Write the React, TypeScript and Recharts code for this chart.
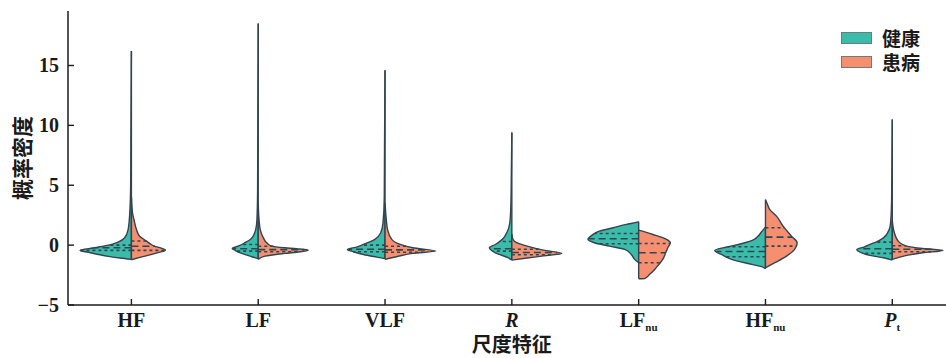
import React from 'react';
import { ComposedChart, Area, XAxis, YAxis, ReferenceLine, Legend, Label } from 'recharts';

type Profile = [number, number][];

// Category order along the x axis
const features = ['HF', 'LF', 'VLF', 'R', 'LFnu', 'HFnu', 'Pt'];
const tickBase = ['HF', 'LF', 'VLF', 'R', 'LF', 'HF', 'P'];
const tickSub = ['', '', '', '', 'nu', 'nu', 't'];
const tickItalic = [false, false, false, true, false, false, true];

const groups = ['健康', '患病'];
const yTicks = [-5, 0, 5, 10, 15];

// Kernel density outlines: [value, half width in category units], bottom to top
const hfHealthy: Profile = [[-1.19, 0], [-1.08, 0.09], [-0.94, 0.18], [-0.78, 0.26], [-0.6, 0.34], [-0.44, 0.405], [-0.22, 0.29], [0.0, 0.18], [0.25, 0.105], [0.61, 0.053], [1.3, 0.026], [2.7, 0.013], [5, 0.006], [9, 0.004], [16.2, 0]];
const hfDisease: Profile = [[-1.22, 0], [-1.05, 0.06], [-0.86, 0.13], [-0.62, 0.21], [-0.42, 0.268], [-0.25, 0.235], [-0.08, 0.18], [0.1, 0.15], [0.33, 0.12], [0.75, 0.065], [1.3, 0.04], [2.14, 0.02], [2.6, 0.01], [3.2, 0.004], [4.0, 0]];

const lfHealthy: Profile = [[-1.13, 0], [-0.97, 0.05], [-0.69, 0.13], [-0.45, 0.18], [-0.28, 0.205], [-0.05, 0.15], [0.2, 0.105], [0.45, 0.065], [0.75, 0.04], [1.3, 0.02], [2.14, 0.01], [4.5, 0.005], [10, 0.003], [18.5, 0]];
const lfDisease: Profile = [[-1.19, 0], [-0.92, 0.053], [-0.69, 0.21], [-0.55, 0.33], [-0.42, 0.394], [-0.3, 0.3], [-0.22, 0.21], [-0.08, 0.105], [0.2, 0.066], [0.62, 0.04], [1.3, 0.016], [2.2, 0.006], [3.5, 0]];

const vlfHealthy: Profile = [[-1.13, 0], [-1.0, 0.065], [-0.78, 0.17], [-0.55, 0.25], [-0.36, 0.297], [-0.15, 0.22], [0.06, 0.17], [0.48, 0.08], [1.03, 0.034], [1.87, 0.016], [4, 0.006], [8, 0.004], [14.6, 0]];
const vlfDisease: Profile = [[-1.19, 0], [-0.97, 0.09], [-0.69, 0.22], [-0.5, 0.4], [-0.22, 0.22], [0.06, 0.12], [0.48, 0.053], [1.3, 0.02], [2.14, 0.01], [3.5, 0]];

const rHealthy: Profile = [[-1.25, 0], [-1.05, 0.03], [-0.64, 0.13], [-0.22, 0.177], [0.05, 0.13], [0.33, 0.092], [0.6, 0.065], [1.03, 0.04], [1.87, 0.016], [3.25, 0.008], [6, 0.004], [9.4, 0]];
const rDisease: Profile = [[-1.25, 0], [-1.08, 0.12], [-0.9, 0.25], [-0.69, 0.394], [-0.42, 0.25], [-0.08, 0.12], [0.14, 0.053], [0.33, 0.02], [0.6, 0.005], [0.9, 0]];

const lfnuHealthy: Profile = [[-1.47, 0], [-1.19, 0.032], [-0.78, 0.058], [-0.36, 0.11], [-0.08, 0.23], [0.2, 0.35], [0.48, 0.4], [0.81, 0.37], [1.17, 0.31], [1.45, 0.2], [1.73, 0.097], [1.92, 0.01], [1.95, 0]];
const lfnuDisease: Profile = [[-2.81, 0], [-2.8, 0.047], [-2.44, 0.087], [-2.03, 0.126], [-1.61, 0.16], [-1.19, 0.19], [-0.64, 0.213], [-0.22, 0.23], [0.2, 0.25], [0.48, 0.22], [0.89, 0.113], [1.25, 0]];

const hfnuHealthy: Profile = [[-1.97, 0], [-1.8, 0.03], [-1.53, 0.137], [-1.19, 0.268], [-0.78, 0.347], [-0.44, 0.4], [-0.14, 0.295], [0.2, 0.163], [0.42, 0.1], [0.75, 0.058], [1.17, 0.027], [1.5, 0]];
const hfnuDisease: Profile = [[-1.89, 0], [-1.47, 0.074], [-0.92, 0.166], [-0.36, 0.23], [0.2, 0.25], [0.75, 0.205], [1.58, 0.139], [2.42, 0.087], [2.97, 0.034], [3.5, 0.012], [3.8, 0]];

const ptHealthy: Profile = [[-1.25, 0], [-1.05, 0.07], [-0.86, 0.176], [-0.6, 0.25], [-0.36, 0.28], [-0.15, 0.22], [0.06, 0.176], [0.3, 0.12], [0.61, 0.07], [1.3, 0.024], [2.0, 0.012], [4, 0.005], [10.5, 0]];
const ptDisease: Profile = [[-1.19, 0], [-0.86, 0.113], [-0.64, 0.24], [-0.44, 0.4], [-0.28, 0.24], [-0.08, 0.113], [0.33, 0.047], [1.3, 0.01], [2.0, 0]];

const healthyProfiles = [hfHealthy, lfHealthy, vlfHealthy, rHealthy, lfnuHealthy, hfnuHealthy, ptHealthy];
const diseaseProfiles = [hfDisease, lfDisease, vlfDisease, rDisease, lfnuDisease, hfnuDisease, ptDisease];

// Lower quartile, median, upper quartile
const healthyQuartiles = [[-0.44, -0.22, 0.0], [-0.5, -0.3, 0.05], [-0.55, -0.35, 0.0], [-0.5, -0.3, 0.3], [0.12, 0.53, 0.97], [-0.97, -0.53, -0.14], [-0.69, -0.3, 0.25]];
const diseaseQuartiles = [[-0.44, -0.1, 0.35], [-0.55, -0.38, -0.1], [-0.6, -0.4, -0.1], [-0.8, -0.62, -0.35], [-1.47, -0.64, 0.14], [-0.08, 0.67, 1.45], [-0.55, -0.35, -0.05]];

const fills = ['#3bbcaa', '#f68e70'];
const edge = '#33444f';
const axisColor = '#1c1c1c';
const serif = '"Liberation Serif", "Times New Roman", serif';
const cjk = '"Noto Sans CJK SC", sans-serif';

const widthAt = (p: Profile, v: number) => {
  for (let k = 0; k < p.length - 1; k++) {
    const [v0, w0] = p[k];
    const [v1, w1] = p[k + 1];
    if (v >= v0 && v <= v1) return w0 + ((w1 - w0) * (v - v0)) / (v1 - v0);
  }
  return 0;
};

const halfData = (p: Profile, center: number, side: number) =>
  p.map(([v, w]) => ({ v, x: [center, center + side * w] }));

const YTick = (props: any) => {
  const { x, y, payload } = props;
  const val = payload.value as number;
  const text = val < 0 ? '\u2212' + Math.abs(val) : String(val);
  return (
    <g>
      <line x1={x} x2={x + 6} y1={y} y2={y} stroke={axisColor} strokeWidth={1.4} />
      <text x={x - 9} y={y} dy="0.35em" textAnchor="end" fontFamily={serif} fontWeight={700} fontSize={20} fill="#1a1a1a">
        {text}
      </text>
    </g>
  );
};

const XTick = (props: any) => {
  const { x, y, payload } = props;
  const i = Math.round(payload.value as number);
  if (i < 0 || i >= features.length) return null;
  return (
    <g>
      <line x1={x} x2={x} y1={y} y2={y - 6} stroke={axisColor} strokeWidth={1.4} />
      <text x={x} y={y + 22} textAnchor="middle" fontFamily={serif} fontWeight={700} fontSize={20} fill="#1a1a1a">
        <tspan fontStyle={tickItalic[i] ? 'italic' : 'normal'}>{tickBase[i]}</tspan>
        {tickSub[i] ? (
          <tspan fontSize={11} dy={4}>
            {tickSub[i]}
          </tspan>
        ) : null}
      </text>
    </g>
  );
};

const LegendBox = () => (
  <div style={{ fontFamily: cjk, fontWeight: 700, fontSize: 19, color: '#1a1a1a', lineHeight: 1 }}>
    {groups.map((g, i) => (
      <div key={g} style={{ display: 'flex', alignItems: 'center', height: 24 }}>
        <span
          style={{
            display: 'block',
            boxSizing: 'border-box',
            width: 31,
            height: 12,
            background: fills[i],
            border: '1px solid #6d7b7b',
            marginRight: 10,
          }}
        />
        <span style={{ display: 'block', height: 20, lineHeight: '20px', overflow: 'visible' }}>{g}</span>
      </div>
    ))}
  </div>
);

export default function App() {
  const areas: React.ReactNode[] = [];
  const lines: React.ReactNode[] = [];
  features.forEach((f, i) => {
    const sets = [
      { p: healthyProfiles[i], q: healthyQuartiles[i], side: -1, fill: fills[0] },
      { p: diseaseProfiles[i], q: diseaseQuartiles[i], side: 1, fill: fills[1] },
    ];
    sets.forEach((s, j) => {
      areas.push(
        <Area
          key={`a-${f}-${j}`}
          data={halfData(s.p, i, s.side)}
          dataKey="x"
          type="monotone"
          fill={s.fill}
          fillOpacity={1}
          stroke={edge}
          strokeWidth={1.4}
          dot={false}
          activeDot={false}
          legendType="none"
          isAnimationActive={false}
        />
      );
      s.q.forEach((qv, k) => {
        const w = widthAt(s.p, qv);
        lines.push(
          <ReferenceLine
            key={`q-${f}-${j}-${k}`}
            segment={[
              { x: i, y: qv },
              { x: i + s.side * w, y: qv },
            ]}
            stroke="#2c4750"
            strokeWidth={1.6}
            strokeDasharray={k === 1 ? '7 4' : '3 3'}
          />
        );
      });
    });
  });

  return (
    <div style={{ position: 'absolute', left: 0, top: 0, width: 946, height: 358, overflow: 'hidden', background: '#fff' }}>
      <ComposedChart
        width={966}
        height={358}
        layout="vertical"
        margin={{ top: 11, right: 10.3, bottom: 13, left: 10 }}
      >
        <XAxis
          type="number"
          domain={[-0.5, 6.5]}
          ticks={[0, 1, 2, 3, 4, 5, 6]}
          allowDataOverflow
          height={40}
          tickSize={0}
          tickMargin={0}
          tickLine={false}
          axisLine={{ stroke: axisColor, strokeWidth: 1.5 }}
          tick={<XTick />}
          interval={0}
        >
          <Label
            content={(p: any) => {
              const vb = p.viewBox;
              return (
                <text
                  x={vb.x + vb.width / 2}
                  y={vb.y + 47}
                  textAnchor="middle"
                  fontFamily={cjk}
                  fontWeight={700}
                  fontSize={20}
                  fill="#1a1a1a"
                >
                  尺度特征
                </text>
              );
            }}
          />
        </XAxis>
        <XAxis
          xAxisId="top"
          orientation="top"
          type="number"
          domain={[-0.5, 6.5]}
          height={0}
          tick={false}
          tickLine={false}
          axisLine={{ stroke: axisColor, strokeWidth: 1.5 }}
        />
        <YAxis
          type="number"
          dataKey="v"
          domain={[-5, 19.55]}
          ticks={yTicks}
          reversed
          allowDataOverflow
          width={58}
          tickSize={0}
          tickMargin={0}
          tickLine={false}
          axisLine={{ stroke: axisColor, strokeWidth: 1.5 }}
          tick={<YTick />}
          interval={0}
        >
          <Label
            content={(p: any) => {
              const vb = p.viewBox;
              const cx = vb.x + 11;
              const cy = vb.y + vb.height / 2;
              return (
                <text
                  x={cx}
                  y={cy}
                  transform={`rotate(-90 ${cx} ${cy})`}
                  textAnchor="middle"
                  dominantBaseline="central"
                  fontFamily={cjk}
                  fontWeight={700}
                  fontSize={21}
                  fill="#1a1a1a"
                >
                  概率密度
                </text>
              );
            }}
          />
        </YAxis>
        {areas}
        {lines}
        <Legend
          layout="vertical"
          align="center"
          verticalAlign="middle"
          content={<LegendBox />}
          wrapperStyle={{ left: 841, top: 26, width: 'auto' }}
        />
      </ComposedChart>
    </div>
  );
}
